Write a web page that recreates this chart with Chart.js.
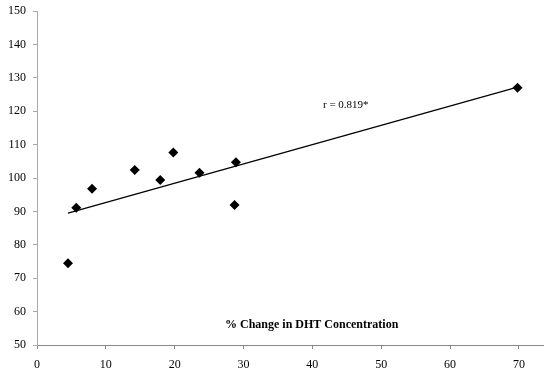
<!DOCTYPE html>
<html><head><meta charset="utf-8">
<script src="https://cdn.jsdelivr.net/npm/chart.js@4/dist/chart.umd.min.js"></script>
<style>html,body{margin:0;padding:0;background:#fff}#w{width:553px;height:380px}</style>
</head><body><div id="w"><canvas id="c"></canvas></div>
<script>
const xValues = [4.5, 5.7, 8.0, 14.2, 17.9, 19.8, 23.6, 28.9, 28.7, 69.8];
const yValues = [74.5, 91.1, 96.8, 102.4, 99.4, 107.6, 101.6, 104.7, 91.9, 127.0];
const trendX = [4.5, 69.8];
const trendY = [89.5, 127.2];
const xTitle = "% Change in DHT Concentration";
const annotation = "r = 0.819*";

const points = xValues.map((x, i) => ({x, y: yValues[i]}));
const trend = trendX.map((x, i) => ({x, y: trendY[i]}));

const textPlugin = {
  id: 'texts',
  afterDatasetsDraw(chart) {
    const {ctx} = chart;
    ctx.save();
    ctx.fillStyle = '#000';
    ctx.textBaseline = 'middle';
    ctx.font = '11px "Liberation Serif"';
    ctx.textAlign = 'left';
    ctx.fillText(annotation, 323, 105);
    ctx.font = 'bold 12px "Liberation Serif"';
    ctx.fillText(xTitle, 225, 325);
    ctx.restore();
  }
};

new Chart(document.getElementById('c'), {
  type: 'scatter',
  data: {
    datasets: [
      { data: points, pointStyle: 'rectRot', pointRadius: 5, pointHoverRadius: 5,
        backgroundColor: '#000', borderColor: '#000', borderWidth: 0, showLine: false, order: 1 },
      { data: trend, showLine: true, pointRadius: 0, borderColor: '#000', borderWidth: 1.2, fill: false, order: 2 }
    ]
  },
  options: {
    responsive: true, maintainAspectRatio: false, animation: false,
    layout: { padding: { top: 11, right: 10, left: 0, bottom: 0 } },
    plugins: { legend: { display: false }, tooltip: { enabled: false } },
    scales: {
      x: {
        type: 'linear', min: 0, max: 73.5,
        ticks: { stepSize: 10, includeBounds: false, color: '#000', padding: 9,
                 font: { family: '"Liberation Serif"', size: 12 } },
        grid: { drawOnChartArea: false, drawTicks: true, tickLength: 4, color: '#888' },
        border: { color: '#888', width: 1 },
        afterFit(s) { s.height = 35; s.paddingLeft = 0; s.paddingRight = 0; }
      },
      y: {
        type: 'linear', min: 50, max: 150,
        ticks: { stepSize: 10, color: '#000', padding: 7,
                 font: { family: '"Liberation Serif"', size: 12 } },
        grid: { drawOnChartArea: false, drawTicks: true, tickLength: 4, color: '#aaa' },
        border: { color: '#aaa', width: 1 },
        afterFit(s) { s.width = 37; s.paddingTop = 0; s.paddingBottom = 0; }
      }
    }
  },
  plugins: [textPlugin]
});
</script>
</body></html>
